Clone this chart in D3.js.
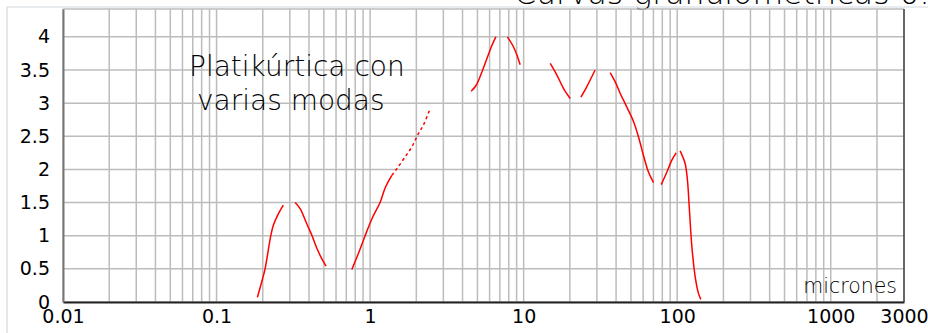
<!DOCTYPE html>
<html>
<head>
<meta charset="utf-8">
<script src="https://cdn.jsdelivr.net/npm/d3@7"></script>
<style>
  html, body { margin: 0; padding: 0; background: #ffffff; }
  svg { display: block; }
</style>
</head>
<body>
<svg id="chart" width="928" height="333"></svg>
<script>
// Particle diameter (microns) and frequency (%) of each traced stretch of the curve.
// A null entry separates stretches that are drawn apart.
const diameters = [
  0.1845, 0.1994, 0.207, 0.2256, 0.2346, 0.2527, 0.2723, null,
  0.3245, 0.350, 0.387, 0.417, 0.450, 0.484, 0.517, null,
  0.760, 0.835, 0.928, 1.030, 1.161, 1.253, 1.385, null,
  1.385, 1.493, 1.691, 1.870, 2.064, 2.225, 2.459, null,
  4.55, 4.91, 5.35, 5.76, 6.21, 6.59, null,
  7.84, 8.58, 9.12, 9.49, null,
  14.9, 16.5, 18.2, 20.1, null,
  23.6, 25.8, 29.2, null,
  36.6, 39.5, 42.5, 47.0, 52.0, 56.0, 60.3, 65.0, 70.1, null,
  78.7, 85.7, 92.3, 98.4, null,
  104.5, 112.6, 116.6, 120.2, 124.7, 131.0, 137.6, 142.6
];
const frequency = [
  0.07, 0.35, 0.5, 1.0, 1.16, 1.33, 1.46, null,
  1.50, 1.41, 1.18, 1.01, 0.81, 0.655, 0.54, null,
  0.49, 0.72, 1.0, 1.26, 1.5, 1.72, 1.91, null,
  1.91, 2.01, 2.19, 2.34, 2.54, 2.67, 2.92, null,
  3.18, 3.27, 3.47, 3.67, 3.87, 4.0, null,
  4.0, 3.85, 3.70, 3.58, null,
  3.6, 3.42, 3.22, 3.07, null,
  3.09, 3.25, 3.50, null,
  3.46, 3.32, 3.15, 2.94, 2.72, 2.49, 2.21, 1.96, 1.80, null,
  1.77, 1.96, 2.14, 2.25, null,
  2.28, 2.09, 1.84, 1.38, 0.83, 0.38, 0.13, 0.04
];
// Stretches (by order) drawn with a broken stroke
const dottedStretches = [3];

const xTickValues = [0.01, 0.1, 1, 10, 100, 1000, 3000];
const xTickLabels = ["0.01", "0.1", "1", "10", "100", "1000", "3000"];
const yTickValues = [0, 0.5, 1, 1.5, 2, 2.5, 3, 3.5, 4];
const yTickLabels = ["0", "0.5", "1", "1.5", "2", "2.5", "3", "3.5", "4"];

const titleText = "Curvas granulométricas 0.5";
const noteLines = ["Platikúrtica con", "varias modas"];
const unitLabel = "micrones";

const svg = d3.select("#chart");
const plot = { left: 63, right: 904, top: 9, bottom: 302 };

const x = d3.scaleLog().domain([0.01, 3000]).range([plot.left, plot.right]);
const y = d3.scaleLinear().domain([0, 4.42]).range([plot.bottom, plot.top]);

const labelFont = "'DejaVu Sans', 'Liberation Sans', sans-serif";

// outer chart frame
svg.append("path")
  .attr("d", "M7,333 V7 H928")
  .attr("fill", "none")
  .attr("stroke", "#d3d9de")
  .attr("stroke-width", 1.2);

// title (sits partly above the top edge)
svg.append("text")
  .attr("x", 514).attr("y", 4)
  .attr("font-family", labelFont)
  .attr("font-size", 31.5)
  .attr("font-weight", 300)
  .attr("fill", "#000")
  .text(titleText);

// logarithmic minor/major grid: 1..9 × each decade
const gridX = [];
for (let e = -2; e <= 3; e++) {
  for (let m = 1; m <= 9; m++) {
    const v = m * Math.pow(10, e);
    if (v >= 0.01 && v <= 3000) gridX.push(v);
  }
}
const grid = svg.append("g").attr("stroke", "#bcbcbc").attr("stroke-width", 1.5);
grid.selectAll("line.gx").data(gridX).join("line")
  .attr("class", "gx")
  .attr("x1", d => x(d)).attr("x2", d => x(d))
  .attr("y1", plot.top).attr("y2", plot.bottom);
grid.selectAll("line.gy").data(yTickValues.concat([4.42])).join("line")
  .attr("class", "gy")
  .attr("x1", plot.left).attr("x2", plot.right)
  .attr("y1", d => y(d)).attr("y2", d => y(d));

// axes
const xAxis = d3.axisBottom(x).tickValues(xTickValues)
  .tickFormat((d, i) => xTickLabels[i]).tickSize(0).tickPadding(8);
const gx = svg.append("g").attr("transform", `translate(0,${plot.bottom})`).call(xAxis);
gx.select(".domain").attr("stroke", "#222").attr("stroke-width", 2);
gx.selectAll("text").attr("font-family", labelFont).attr("font-size", 19).attr("fill", "#000");

const yAxis = d3.axisLeft(y).tickValues(yTickValues)
  .tickFormat((d, i) => yTickLabels[i]).tickSize(0).tickPadding(13);
const gy = svg.append("g").attr("transform", `translate(${plot.left},0)`).call(yAxis);
gy.select(".domain").attr("stroke", "#777").attr("stroke-width", 2);
gy.selectAll("text").attr("font-family", labelFont).attr("font-size", 19).attr("fill", "#000");

// right border of the plot
svg.append("line")
  .attr("x1", plot.right).attr("x2", plot.right)
  .attr("y1", plot.top).attr("y2", plot.bottom)
  .attr("stroke", "#444").attr("stroke-width", 1.5);

// split the series into stretches at the null entries
const stretches = [];
let current = [];
diameters.forEach((d, i) => {
  if (d === null || frequency[i] === null) {
    if (current.length) stretches.push(current);
    current = [];
  } else {
    current.push([d, frequency[i]]);
  }
});
if (current.length) stretches.push(current);

const line = d3.line()
  .x(d => x(d[0]))
  .y(d => y(d[1]))
  .curve(d3.curveCatmullRom.alpha(0.5));

svg.append("g").selectAll("path").data(stretches).join("path")
  .attr("d", line)
  .attr("fill", "none")
  .attr("stroke", "#ff0000")
  .attr("stroke-width", 1.5)
  .attr("stroke-dasharray", (d, i) => dottedStretches.includes(i) ? "3 3" : null);

// annotation inside the plot
svg.append("text")
  .attr("font-family", labelFont)
  .attr("font-size", 28)
  .attr("font-weight", 300)
  .attr("fill", "#000")
  .selectAll("tspan").data(noteLines).join("tspan")
  .attr("x", (d, i) => i === 0 ? 189 : 197)
  .attr("y", (d, i) => 76 + i * 34)
  .text(d => d);

// unit label in the lower-right corner
svg.append("text")
  .attr("x", 897).attr("y", 293)
  .attr("text-anchor", "end")
  .attr("font-family", labelFont)
  .attr("font-size", 20.5)
  .attr("font-weight", 300)
  .attr("fill", "#000")
  .text(unitLabel);
</script>
</body>
</html>
